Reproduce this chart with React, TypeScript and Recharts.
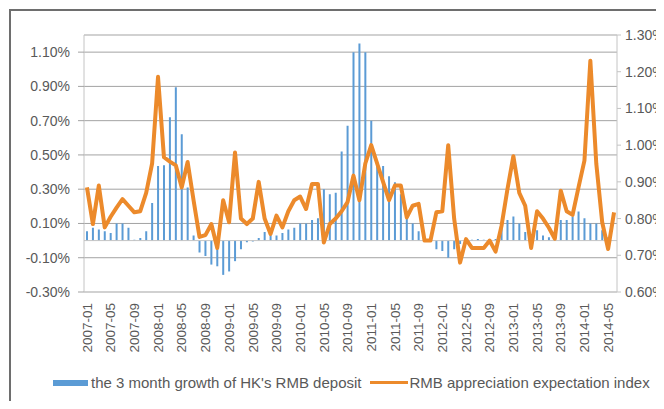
import React from 'react';
import {
  ComposedChart,
  Bar,
  Line,
  XAxis,
  YAxis,
  CartesianGrid,
  ReferenceLine,
} from 'recharts';

// months, 2007-01 .. 2014-06
const months = [
  '2007-01', '2007-02', '2007-03', '2007-04', '2007-05', '2007-06', '2007-07', '2007-08', '2007-09', '2007-10', '2007-11', '2007-12',
  '2008-01', '2008-02', '2008-03', '2008-04', '2008-05', '2008-06', '2008-07', '2008-08', '2008-09', '2008-10', '2008-11', '2008-12',
  '2009-01', '2009-02', '2009-03', '2009-04', '2009-05', '2009-06', '2009-07', '2009-08', '2009-09', '2009-10', '2009-11', '2009-12',
  '2010-01', '2010-02', '2010-03', '2010-04', '2010-05', '2010-06', '2010-07', '2010-08', '2010-09', '2010-10', '2010-11', '2010-12',
  '2011-01', '2011-02', '2011-03', '2011-04', '2011-05', '2011-06', '2011-07', '2011-08', '2011-09', '2011-10', '2011-11', '2011-12',
  '2012-01', '2012-02', '2012-03', '2012-04', '2012-05', '2012-06', '2012-07', '2012-08', '2012-09', '2012-10', '2012-11', '2012-12',
  '2013-01', '2013-02', '2013-03', '2013-04', '2013-05', '2013-06', '2013-07', '2013-08', '2013-09', '2013-10', '2013-11', '2013-12',
  '2014-01', '2014-02', '2014-03', '2014-04', '2014-05', '2014-06',
];

// 3 month growth of HK's RMB deposit (%), left axis
const depositGrowth = [
  0.055, 0.075, 0.065, 0.055, 0.045, 0.10, 0.10, 0.075, 0.005, 0.015, 0.055, 0.22,
  0.435, 0.44, 0.72, 0.895, 0.62, 0.31, 0.03, -0.07, -0.09, -0.14, -0.15, -0.20,
  -0.18, -0.12, -0.05, -0.01, -0.005, 0.015, 0.05, 0.04, 0.03, 0.045, 0.065, 0.075,
  0.10, 0.10, 0.12, 0.13, 0.30, 0.27, 0.28, 0.52, 0.67, 1.10, 1.15, 1.10,
  0.70, 0.46, 0.435, 0.375, 0.34, 0.27, 0.13, 0.10, 0.055, 0.015, 0.0, -0.05,
  -0.06, -0.10, -0.05, -0.02, 0.0, 0.005, 0.01, 0.005, 0.01, 0.01, 0.09, 0.12,
  0.14, 0.10, 0.05, 0.03, 0.06, 0.03, 0.02, 0.01, 0.12, 0.12, 0.14, 0.17,
  0.13, 0.10, 0.10, 0.06, 0.02, 0.0,
];

// RMB appreciation expectation index (%), right axis
const expectationIndex = [
  0.885, 0.785, 0.89, 0.776, 0.805, 0.83, 0.853, 0.835, 0.817, 0.82, 0.87, 0.95,
  1.186, 0.967, 0.955, 0.945, 0.885, 0.954, 0.85, 0.75, 0.755, 0.785, 0.72, 0.85,
  0.79, 0.98, 0.80, 0.785, 0.80, 0.90, 0.80, 0.758, 0.808, 0.776, 0.82, 0.85,
  0.86, 0.826, 0.894, 0.894, 0.735, 0.785, 0.80, 0.82, 0.845, 0.917, 0.85, 0.95,
  1.00, 0.95, 0.90, 0.85, 0.89, 0.89, 0.803, 0.835, 0.84, 0.74, 0.74, 0.817,
  0.82, 1.00, 0.80, 0.68, 0.744, 0.72, 0.72, 0.72, 0.74, 0.71, 0.78, 0.88,
  0.97, 0.87, 0.835, 0.72, 0.82, 0.80, 0.775, 0.745, 0.876, 0.82, 0.81, 0.885,
  0.958, 1.23, 0.95, 0.79, 0.717, 0.817,
];

const leftTicks = [-0.3, -0.1, 0.1, 0.3, 0.5, 0.7, 0.9, 1.1];
const rightTicks = [0.6, 0.7, 0.8, 0.9, 1.0, 1.1, 1.2, 1.3];

const BLUE = '#5B9BD5';
const ORANGE = '#EC8A2B';
const TEXT = '#595959';
const FONT = '"Liberation Sans", Arial, sans-serif';

const data = months.map((m, i) => ({
  month: m,
  deposit: depositGrowth[i],
  index: expectationIndex[i],
}));

const pct = (v: number) => `${v.toFixed(2)}%`;

function MonthTick(props: any) {
  const { x, y, payload } = props;
  const ty = y + 3;
  return (
    <text
      x={x}
      y={ty}
      dy="0.35em"
      textAnchor="end"
      transform={`rotate(-90 ${x} ${ty})`}
      fontSize={13.5}
      fontFamily={FONT}
      fill={TEXT}
    >
      {payload.value}
    </text>
  );
}

export default function App() {
  return (
    <div
      style={{
        position: 'relative',
        width: 664,
        height: 409,
        margin: -8,
        overflow: 'hidden',
        background: '#fff',
        fontFamily: FONT,
      }}
    >
      <div
        style={{
          position: 'absolute',
          left: 9,
          top: 9,
          width: 720,
          height: 500,
          borderTop: '2px solid #6e6e6e',
          borderLeft: '2px solid #6e6e6e',
        }}
      />
      <div style={{ position: 'absolute', left: 0, top: 0 }}>
        <ComposedChart
          width={664}
          height={409}
          data={data}
          margin={{ top: 35, right: 0, bottom: 0, left: 0 }}
        >
          <CartesianGrid yAxisId="left" vertical={false} stroke="#a3a3a3" />
          <XAxis
            dataKey="month"
            interval={3}
            height={117}
            axisLine={false}
            tickLine={false}
            tick={<MonthTick />}
          />
          <YAxis
            yAxisId="left"
            width={84}
            domain={[-0.3, 1.2]}
            ticks={leftTicks}
            tickFormatter={pct}
            allowDataOverflow
            axisLine={{ stroke: '#c4c4c4' }}
            tickLine={{ stroke: '#a3a3a3' }}
            tickSize={6}
            tickMargin={8}
            tick={{ fontSize: 14, fontFamily: FONT, fill: TEXT }}
          />
          <YAxis
            yAxisId="right"
            orientation="right"
            width={47}
            domain={[0.6, 1.3]}
            ticks={rightTicks}
            tickFormatter={pct}
            allowDataOverflow
            axisLine={{ stroke: '#c4c4c4' }}
            tickLine={{ stroke: '#c4c4c4' }}
            tickSize={4}
            tickMargin={4}
            tick={{ fontSize: 14, fontFamily: FONT, fill: TEXT }}
          />
          <ReferenceLine yAxisId="left" y={0} stroke="#c4c4c4" />
          <Bar
            yAxisId="left"
            dataKey="deposit"
            name="the 3 month growth of HK's RMB deposit"
            fill={BLUE}
            barSize={2}
            isAnimationActive={false}
          />
          <Line
            yAxisId="right"
            type="linear"
            dataKey="index"
            name="RMB appreciation expectation index"
            stroke={ORANGE}
            strokeWidth={4}
            strokeLinejoin="round"
            dot={false}
            activeDot={false}
            isAnimationActive={false}
          />
        </ComposedChart>
      </div>
      {/* legend */}
      <div
        style={{
          position: 'absolute',
          left: 53,
          top: 374,
          display: 'flex',
          alignItems: 'center',
          fontSize: 15,
          color: TEXT,
          whiteSpace: 'nowrap',
        }}
      >
        <span style={{ display: 'inline-block', width: 35, height: 6, background: BLUE, marginRight: 3 }} />
        <span>the 3 month growth of HK's RMB deposit</span>
        <span style={{ display: 'inline-block', width: 38, height: 3, background: ORANGE, marginLeft: 8, marginRight: 2 }} />
        <span>RMB appreciation expectation index</span>
      </div>
    </div>
  );
}
